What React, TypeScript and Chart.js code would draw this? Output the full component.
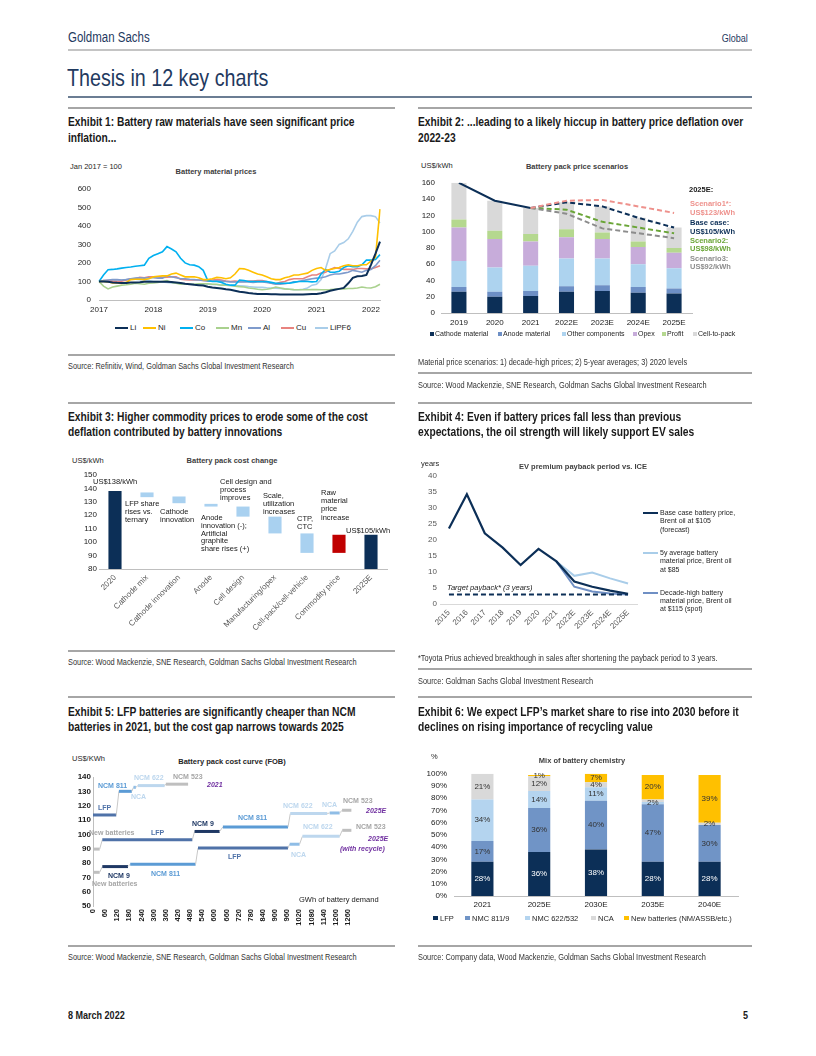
import React, { useEffect, useRef } from 'react';
import { Chart, registerables } from 'chart.js';

Chart.register(...registerables);

const ARIAL = "'Liberation Sans',Arial,Helvetica,sans-serif";
const NK = 0.82; // horizontal condensing used for the narrow page typeface
Chart.defaults.font.family = ARIAL;
Chart.defaults.font.size = 7.5;
Chart.defaults.color = '#1a1a1a';

// ---------------- Exhibit 1: battery material prices (Jan 2017 = 100), monthly ----------------
const c1Months = Array.from({ length: 63 }, (_, i) => `${2017 + Math.floor(i / 12)}-${String((i % 12) + 1).padStart(2, '0')}`);
const c1Names = ['Li', 'Ni', 'Co', 'Mn', 'Al', 'Cu', 'LiPF6'];
const c1Li = [100, 100, 98, 95, 93, 92, 92, 95, 95, 96, 98, 98, 98, 98, 98, 98, 97, 95, 92, 88, 85, 82, 80, 78, 72, 68, 65, 62, 58, 55, 50, 45, 42, 38, 35, 33, 32, 32, 31, 31, 30, 30, 30, 30, 30, 30, 31, 32, 33, 36, 42, 50, 55, 60, 65, 90, 120, 128, 130, 135, 190, 250, 315];
const c1Ni = [100, 100, 98, 92, 92, 90, 95, 110, 112, 112, 110, 115, 125, 128, 130, 130, 140, 145, 135, 125, 125, 125, 120, 110, 110, 115, 122, 120, 115, 120, 140, 170, 168, 160, 150, 140, 135, 125, 115, 110, 110, 120, 125, 135, 135, 140, 145, 160, 170, 175, 160, 165, 170, 175, 185, 190, 185, 185, 190, 190, 210, 230, 490];
const c1Co = [100, 135, 163, 165, 168, 172, 175, 178, 182, 185, 188, 225, 240, 250, 260, 288, 275, 260, 225, 200, 190, 188, 180, 160, 105, 100, 100, 95, 85, 80, 80, 108, 105, 100, 100, 100, 100, 100, 95, 90, 90, 90, 90, 95, 100, 100, 100, 98, 100, 140, 165, 150, 150, 155, 175, 185, 180, 180, 190, 215, 215, 218, 245];
const c1Mn = [100, 75, 60, 70, 75, 80, 82, 85, 90, 88, 85, 90, 92, 95, 100, 105, 95, 90, 85, 88, 85, 85, 88, 88, 88, 85, 85, 80, 80, 78, 75, 72, 70, 65, 62, 58, 55, 58, 62, 70, 65, 60, 58, 56, 55, 55, 55, 56, 56, 55, 55, 56, 58, 60, 60, 62, 62, 65, 70, 66, 65, 72, 85];
const c1Al = [100, 105, 108, 110, 110, 108, 110, 115, 118, 120, 118, 120, 120, 118, 118, 130, 125, 120, 115, 115, 112, 110, 108, 105, 102, 102, 103, 102, 100, 98, 97, 98, 98, 97, 95, 97, 98, 95, 90, 85, 85, 88, 92, 98, 100, 105, 110, 115, 118, 120, 125, 135, 140, 140, 145, 150, 160, 155, 150, 160, 165, 185, 215];
const c1Cu = [100, 105, 105, 102, 100, 102, 108, 115, 115, 122, 120, 125, 125, 125, 122, 123, 125, 125, 112, 110, 108, 108, 108, 105, 105, 108, 110, 108, 102, 100, 102, 100, 100, 102, 102, 105, 105, 100, 90, 88, 95, 100, 110, 115, 115, 115, 125, 135, 135, 145, 150, 165, 175, 170, 165, 165, 165, 170, 170, 168, 168, 175, 185];
const c1LiPF6 = [100, 100, 100, 102, 105, 108, 110, 112, 112, 110, 108, 105, 100, 100, 98, 95, 92, 90, 90, 88, 87, 85, 85, 85, 85, 84, 82, 80, 80, 78, 77, 76, 75, 72, 70, 68, 68, 66, 65, 64, 62, 60, 58, 55, 55, 58, 65, 80, 85, 110, 170, 250, 265, 300, 310, 330, 370, 420, 450, 455, 455, 450, 415];
const c1Colors = ['#0c2f57', '#ffc000', '#00b0f0', '#a9d18e', '#7f9bcc', '#e8837f', '#a9cde9'];

// ---------------- Exhibit 2: battery pack price scenarios ----------------
const c2Years = ['2019', '2020', '2021', '2022E', '2023E', '2024E', '2025E'];
const c2Names = ['Cathode material', 'Anode material', 'Other components', 'Opex', 'Profit', 'Cell-to-pack'];
const c2Cathode = [26, 20, 21, 26, 27, 25, 24];
const c2Anode = [6, 6, 6, 7, 7, 7, 6];
const c2Other = [32, 30, 31, 34, 33, 28, 25];
const c2Opex = [41, 35, 30, 26, 24, 21, 19];
const c2Profit = [10, 10, 9, 10, 8, 7, 6];
const c2CellToPack = [45, 37, 32, 33, 32, 29, 25];
const c2BaseActual = [160, 138, 129, null, null, null, null];
const c2BaseForecast = [null, null, 129, 136, 131, 117, 105];
const c2Scenario1 = [null, null, 129, 138, 139, 131, 123];
const c2Scenario2 = [null, null, 129, 127, 112, 105, 98];
const c2Scenario3 = [null, null, 129, 122, 104, 98, 92];
const c2Colors = ['#0c2f57', '#6d8fc5', '#add3ef', '#c7acda', '#b5d88f', '#d9d9d9'];

// ---------------- Exhibit 3: battery pack cost change (waterfall) ----------------
const c3Steps = ['2020', 'Cathode mix', 'Cathode innovation', 'Anode', 'Cell design', 'Manufacturing/opex', 'Cell-pack/cell-vehicle', 'Commodity price', '2025E'];
const c3From = [80, 133.5, 129, 126.5, 119, 106.5, 92, 92, 80];
const c3To = [138, 137, 134, 128.5, 126.5, 119, 106.5, 105.5, 105.5];
const c3Colors = ['#0c2f57', '#a9d1f0', '#a9d1f0', '#a9d1f0', '#a9d1f0', '#a9d1f0', '#a9d1f0', '#c00000', '#0c2f57'];

// ---------------- Exhibit 4: EV premium payback period vs ICE ----------------
const c4Years = ['2015', '2016', '2017', '2018', '2019', '2020', '2021', '2022E', '2023E', '2024E', '2025E'];
const c4Base = [23.6, 34.3, 22.1, 17.6, 12.2, 17.2, 13.3, 7.0, 5.4, 4.2, 3.2];
const c4FiveYear = [null, null, null, null, null, null, 13.3, 8.8, 9.8, 8.0, 6.4];
const c4DecadeHigh = [null, null, null, null, null, null, 13.3, 5.4, 3.9, 3.3, 3.0];
const c4Target = [3, 3, 3, 3, 3, 3, 3, 3, 3, 3, 3];

// ---------------- Exhibit 5: battery pack cost curve (FOB) ----------------
const c5Ticks = [0, 60, 120, 180, 240, 300, 360, 420, 480, 540, 600, 660, 720, 780, 840, 900, 960, 1020, 1080, 1140, 1200, 1260];
const c5Chem2021 = ['LFP', 'NCM 811', 'NCA', 'NCM 622', 'NCM 523'];
const c5From2021 = [0, 128, 200, 222, 360];
const c5To2021 = [115, 192, 212, 354, 470];
const c5Cost2021 = [113.5, 130, 132.8, 134, 135];
const c5Chem2025 = ['New batteries', 'LFP', 'NCM 9', 'NCM 811', 'NCM 622', 'NCA', 'NCM 523'];
const c5From2025 = [5, 46, 502, 642, 975, 1170, 1231];
const c5To2025 = [33, 491, 626, 964, 1158, 1219, 1277];
const c5Cost2025 = [89.7, 96.2, 102, 105.2, 114.5, 114.9, 116.8];
const c5ChemRec = ['New batteries', 'NCM 9', 'NCM 811', 'LFP', 'NCA', 'NCM 622', 'NCM 523'];
const c5FromRec = [5, 46, 184, 519, 972, 1035, 1232];
const c5ToRec = [33, 173, 507, 964, 1021, 1219, 1277];
const c5CostRec = [73.5, 77.5, 79.2, 90.4, 93.1, 98.6, 102.8];
const c5ChemColors: Record<string, string> = { LFP: '#4f72a8', 'NCM 811': '#5b9bd5', NCA: '#8fbde6', 'NCM 622': '#bdd7ee', 'NCM 523': '#bfbfbf', 'NCM 9': '#1f3864', 'New batteries': '#bfbfbf' };

// ---------------- Exhibit 6: mix of battery chemistry ----------------
const c6Years = ['2021', '2025E', '2030E', '2035E', '2040E'];
const c6Names = ['LFP', 'NMC 811/9', 'NMC 622/532', 'NCA', 'New batteries (NM/ASSB/etc.)'];
const c6LFP = [28, 36, 38, 28, 28];
const c6NMC811 = [17, 36, 40, 47, 30];
const c6NMC622 = [34, 14, 11, 2, 0];
const c6NCA = [21, 12, 4, 2, 2];
const c6New = [0, 1, 7, 20, 39];
const c6HiddenLabels = [[3, 3]];
const c6Colors = ['#0c2f57', '#7094c6', '#b4d4ef', '#d9d9d9', '#ffc000'];

const NOGRID = { display: false, drawTicks: false };

function common(pad: any) {
  return {
    animation: false,
    responsive: false,
    maintainAspectRatio: false,
    events: [],
    layout: { padding: pad },
    plugins: { legend: { display: false }, tooltip: { enabled: false }, title: { display: false } },
  };
}

function makeC1() {
  const series = [c1Li, c1Ni, c1Co, c1Mn, c1Al, c1Cu, c1LiPF6];
  return {
    type: 'line',
    data: {
      labels: c1Months,
      datasets: series.map((d, k) => ({ label: c1Names[k], data: d, borderColor: c1Colors[k], borderWidth: k === 0 ? 2 : 1.6, pointRadius: 0, tension: 0 })),
    },
    options: {
      ...common({ top: 8, right: 10, left: 0, bottom: 0 }),
      scales: {
        x: {
          grid: NOGRID,
          border: { display: true, color: '#bfbfbf' },
          ticks: { autoSkip: false, maxRotation: 0, minRotation: 0, padding: 5, color: '#262626', font: { size: 8 }, callback: (_v: any, i: number) => (c1Months[i].endsWith('-01') ? c1Months[i].slice(0, 4) : '') },
          afterFit: (s: any) => { s.height = 16; },
        },
        y: {
          min: 0, max: 600,
          grid: NOGRID,
          border: { display: false },
          ticks: { stepSize: 100, padding: 8, color: '#262626', font: { size: 8 } },
          afterFit: (s: any) => { s.width = 39; },
        },
      },
    },
  };
}

function makeC2() {
  const comps = [c2Cathode, c2Anode, c2Other, c2Opex, c2Profit, c2CellToPack];
  const bars = comps.map((d, k) => ({ type: 'bar', label: c2Names[k], data: d, backgroundColor: c2Colors[k], stack: 'pack', order: 2, barPercentage: 0.42, categoryPercentage: 1 }));
  const line = (label: string, data: any[], color: string, dash: number[], st: string) => ({ type: 'line', label, data, borderColor: color, borderWidth: 2, borderDash: dash, pointRadius: 0, stack: st, order: 0, spanGaps: false, tension: 0 });
  return {
    type: 'bar',
    data: {
      labels: c2Years,
      datasets: [
        line('Scenario1', c2Scenario1, '#ee918c', [5, 3], 's1'),
        line('Scenario3', c2Scenario3, '#8c8c8c', [5, 3], 's3'),
        line('Scenario2', c2Scenario2, '#6aa537', [5, 3], 's2'),
        line('Base forecast', c2BaseForecast, '#0c2f57', [5, 3], 'b2'),
        line('Base', c2BaseActual, '#0c2f57', [], 'b1'),
        ...bars,
      ],
    },
    options: {
      ...common({ top: 8, right: 3, left: 0, bottom: 0 }),
      scales: {
        x: { stacked: true, grid: NOGRID, border: { display: true, color: '#bfbfbf' }, ticks: { padding: 5, color: '#1a1a1a', font: { size: 8 } }, afterFit: (s: any) => { s.height = 19; } },
        y: { stacked: true, min: 0, max: 160, grid: NOGRID, border: { display: false }, ticks: { stepSize: 20, padding: 6, autoSkip: false, color: '#1a1a1a', font: { size: 8 } }, afterFit: (s: any) => { s.width = 26; } },
      },
    },
  };
}

function makeC3() {
  return {
    type: 'bar',
    data: {
      labels: c3Steps,
      datasets: [{ data: c3From.map((f, i) => [f, c3To[i]]), backgroundColor: c3Colors, barPercentage: 0.41, categoryPercentage: 1 }],
    },
    options: {
      ...common({ top: 8, right: 5, left: 0, bottom: 0 }),
      scales: {
        x: { grid: NOGRID, border: { display: true, color: '#bfbfbf' }, ticks: { autoSkip: false, minRotation: 45, maxRotation: 45, padding: 4, color: '#595959', font: { size: 8 } }, afterFit: (s: any) => { s.height = 73; } },
        y: { min: 80, max: 150, grid: NOGRID, border: { display: false }, ticks: { stepSize: 10, padding: 2, autoSkip: false, color: '#1a1a1a', font: { size: 8 } }, afterFit: (s: any) => { s.width = 37; } },
      },
    },
  };
}

function makeC4() {
  const ln = (data: any[], color: string, w: number, dash: number[]) => ({ data, borderColor: color, borderWidth: w, borderDash: dash, pointRadius: 0, tension: 0, spanGaps: false });
  return {
    type: 'line',
    data: {
      labels: c4Years,
      datasets: [
        ln(c4Target, '#0c2f57', 2, [5, 3]),
        ln(c4Base, '#0c2f57', 2.2, []),
        ln(c4DecadeHigh, '#6f8fc4', 2, []),
        ln(c4FiveYear, '#a9cde9', 2, []),
      ],
    },
    options: {
      ...common({ top: 9, right: 3, left: 0, bottom: 0 }),
      scales: {
        x: { offset: true, grid: NOGRID, border: { display: true, color: '#d9d9d9' }, ticks: { autoSkip: false, minRotation: 45, maxRotation: 45, padding: 4, color: '#595959', font: { size: 8 } }, afterFit: (s: any) => { s.height = 38; } },
        y: { min: 0, max: 40, grid: NOGRID, border: { display: false }, ticks: { stepSize: 5, padding: 3, autoSkip: false, color: '#595959', font: { size: 8 } }, afterFit: (s: any) => { s.width = 25; } },
      },
    },
  };
}

function stepPoints(from: number[], to: number[], cost: number[]) {
  const pts: any[] = [];
  from.forEach((f, i) => { pts.push({ x: f, y: cost[i] }, { x: to[i], y: cost[i] }); });
  return pts;
}

function makeC5() {
  const curve = (chem: string[], from: number[], to: number[], cost: number[]) => ({
    data: stepPoints(from, to, cost),
    borderColor: '#bfbfbf',
    borderWidth: 1,
    borderCapStyle: 'butt',
    pointRadius: 0,
    tension: 0,
    segment: {
      borderColor: (ctx: any) => (ctx.p0DataIndex % 2 === 0 ? c5ChemColors[chem[ctx.p0DataIndex / 2]] : '#c8c8c8'),
      borderWidth: (ctx: any) => (ctx.p0DataIndex % 2 === 0 ? 3 : 1),
    },
  });
  return {
    type: 'line',
    data: {
      datasets: [
        curve(c5Chem2021, c5From2021, c5To2021, c5Cost2021),
        curve(c5Chem2025, c5From2025, c5To2025, c5Cost2025),
        curve(c5ChemRec, c5FromRec, c5ToRec, c5CostRec),
      ],
    },
    options: {
      ...common({ top: 9, right: 8, left: 0, bottom: 0 }),
      scales: {
        x: {
          type: 'linear', min: 0, max: 1290,
          grid: NOGRID, border: { display: false },
          ticks: { autoSkip: false, minRotation: 90, maxRotation: 90, padding: 3, color: '#1a1a1a', font: { size: 7.5, weight: 'bold' }, callback: (v: any) => String(v) },
          afterBuildTicks: (s: any) => { s.ticks = c5Ticks.map((v) => ({ value: v })); },
          afterFit: (s: any) => { s.height = 32; },
        },
        y: { min: 50, max: 140, grid: NOGRID, border: { display: true, color: '#bfbfbf' }, ticks: { stepSize: 10, padding: 2, autoSkip: false, color: '#1a1a1a', font: { size: 8, weight: 'bold' } }, afterFit: (s: any) => { s.width = 31; } },
      },
    },
  };
}

const c6LabelPlugin = {
  id: 'c6Labels',
  afterDatasetsDraw(chart: any) {
    const { ctx } = chart;
    ctx.save();
    ctx.font = `8px ${ARIAL}`;
    ctx.textAlign = 'center';
    ctx.textBaseline = 'middle';
    chart.data.datasets.forEach((ds: any, di: number) => {
      const meta = chart.getDatasetMeta(di);
      meta.data.forEach((el: any, i: number) => {
        const v = ds.data[i];
        if (!v) return;
        if (c6HiddenLabels.some(([d, k]) => d === di && k === i)) return;
        const p = el.getProps(['x', 'y', 'base'], true);
        ctx.fillStyle = di === 0 ? '#ffffff' : '#333333';
        ctx.fillText(`${v}%`, p.x, (p.y + p.base) / 2);
      });
    });
    ctx.restore();
  },
};

function makeC6() {
  const comps = [c6LFP, c6NMC811, c6NMC622, c6NCA, c6New];
  return {
    type: 'bar',
    data: {
      labels: c6Years,
      datasets: comps.map((d, k) => ({ label: c6Names[k], data: d, backgroundColor: c6Colors[k], barPercentage: 0.39, categoryPercentage: 1 })),
    },
    plugins: [c6LabelPlugin],
    options: {
      ...common({ top: 9, right: 2, left: 0, bottom: 0 }),
      scales: {
        x: { stacked: true, grid: NOGRID, border: { display: true, color: '#bfbfbf' }, ticks: { padding: 4, color: '#1a1a1a', font: { size: 8 } }, afterFit: (s: any) => { s.height = 14; } },
        y: { stacked: true, min: 0, max: 100, grid: NOGRID, border: { display: false }, ticks: { stepSize: 10, padding: 7, autoSkip: false, color: '#1a1a1a', font: { size: 8 }, callback: (v: any) => `${v}%` }, afterFit: (s: any) => { s.width = 39; } },
      },
    },
  };
}

function ChartBox({ x, y, w, h, make }: any) {
  const ref = useRef<HTMLCanvasElement>(null);
  useEffect(() => {
    const chart = new Chart(ref.current as HTMLCanvasElement, make());
    return () => chart.destroy();
  }, []);
  return <canvas ref={ref} width={w} height={h} style={{ position: 'absolute', left: x, top: y, width: w, height: h }} />;
}

function T({ x, y, s = 7.5, c = '#1a1a1a', b = false, it = false, k = 1, a = 'left', lh, children }: any) {
  const L = lh ?? Math.round(s * 1.2);
  const st: any = { position: 'absolute', top: y - L / 2, fontSize: s, lineHeight: `${L}px`, color: c, fontWeight: b ? 'bold' : 'normal', fontStyle: it ? 'italic' : 'normal', fontFamily: ARIAL, whiteSpace: 'pre', margin: 0 };
  if (a === 'left') { st.left = x; if (k !== 1) { st.transform = `scaleX(${k})`; st.transformOrigin = 'left center'; } }
  else if (a === 'right') { st.right = 816 - x; if (k !== 1) { st.transform = `scaleX(${k})`; st.transformOrigin = 'right center'; } }
  else { st.left = x; st.transform = `translateX(-50%) scaleX(${k})`; st.transformOrigin = 'left center'; }
  return <div style={st}>{children}</div>;
}

function HL({ x1, x2, y, w = 2, c = '#a6a6a6' }: any) {
  return <div style={{ position: 'absolute', left: x1, top: y - w / 2, width: x2 - x1, height: w, background: c }} />;
}

function Sq({ x, y, c, s = 5 }: any) {
  return <div style={{ position: 'absolute', left: x, top: y - s / 2, width: s, height: s, background: c }} />;
}

const TITLE = { s: 12.5, b: true, k: NK, c: '#1a1a1a' };
const SRC = { s: 9, k: NK, c: '#333333' };
const PURPLE = '#7030a0';

export default function App() {
  const c1LegendX = [115, 143, 180, 216, 248, 281, 315];
  const c2LegendX = [430, 498, 562, 633, 662, 693];
  const c6LegendX = [433, 465, 525, 591, 624];
  return (
    <div style={{ position: 'absolute', left: 0, top: 0, width: 816, height: 1056, background: '#ffffff', overflow: 'hidden' }}>
      {/* header */}
      <T x={68} y={37} s={14} k={NK} c="#1f3a5f">Goldman Sachs</T>
      <T x={748} y={38} s={11} k={NK} c="#1f3a5f" a="right">Global</T>
      <HL x1={68} x2={752} y={50} w={2} c="#c4c4c4" />
      <T x={67} y={77} s={24} k={NK} c="#1f3a5f">Thesis in 12 key charts</T>
      <HL x1={68} x2={752} y={97} w={2} c="#6b7d93" />

      {/* exhibit header lines */}
      <HL x1={68} x2={395} y={108} />
      <HL x1={418} x2={752} y={108} />
      <HL x1={68} x2={395} y={403} />
      <HL x1={418} x2={752} y={403} />
      <HL x1={68} x2={395} y={697} />
      <HL x1={418} x2={752} y={697} />

      {/* Exhibit 1 */}
      <T x={68} y={122} {...TITLE}>Exhibit 1: Battery raw materials have seen significant price</T>
      <T x={68} y={138} {...TITLE}>inflation...</T>
      <T x={70} y={166} s={7.5} c="#262626">Jan 2017 = 100</T>
      <T x={216} y={171} s={7.5} b c="#404040" a="center">Battery material prices</T>
      <ChartBox x={60} y={176} w={330} h={140} make={makeC1} />
      {c1Names.map((n, k) => (
        <React.Fragment key={n}>
          <div style={{ position: 'absolute', left: c1LegendX[k], top: 327.3, width: 13, height: 2, background: c1Colors[k] }} />
          <T x={c1LegendX[k] + 15} y={328.3} s={8} c="#262626">{n}</T>
        </React.Fragment>
      ))}
      <HL x1={68} x2={395} y={355} w={1.5} />
      <T x={68} y={366} {...SRC}>Source: Refinitiv, Wind, Goldman Sachs Global Investment Research</T>

      {/* Exhibit 2 */}
      <T x={418} y={122} {...TITLE}>Exhibit 2: ...leading to a likely hiccup in battery price deflation over</T>
      <T x={418} y={138} {...TITLE}>2022-23</T>
      <T x={421} y={165} s={7.5} c="#262626">US$/kWh</T>
      <T x={577} y={166} s={7.5} b c="#404040" a="center">Battery pack price scenarios</T>
      <ChartBox x={415} y={172} w={280} h={160} make={makeC2} />
      <T x={689} y={189} s={7.5} b c="#1a1a1a">2025E:</T>
      <T x={690} y={203} s={7.5} b c="#ee918c" lh={9}>{'Scenario1*:\nUS$123/kWh'}</T>
      <T x={690} y={222} s={7.5} b c="#0c2f57" lh={9}>{'Base case:\nUS$105/kWh'}</T>
      <T x={690} y={241} s={7.5} b c="#6aa537" lh={8.5}>{'Scenario2:\nUS$98/kWh'}</T>
      <T x={690} y={259} s={7.5} b c="#8c8c8c" lh={8.5}>{'Scenario3:\nUS$92/kWh'}</T>
      {c2Names.map((n, k) => (
        <React.Fragment key={n}>
          <Sq x={c2LegendX[k]} y={334} c={c2Colors[k]} s={4} />
          <T x={c2LegendX[k] + 5} y={334} s={7} c="#262626">{n}</T>
        </React.Fragment>
      ))}
      <T x={418} y={362} {...SRC}>Material price scenarios: 1) decade-high prices; 2) 5-year averages; 3) 2020 levels</T>
      <HL x1={418} x2={752} y={373} w={1.5} />
      <T x={418} y={385} {...SRC}>Source: Wood Mackenzie, SNE Research, Goldman Sachs Global Investment Research</T>

      {/* Exhibit 3 */}
      <T x={68} y={417} {...TITLE}>Exhibit 3: Higher commodity prices to erode some of the cost</T>
      <T x={68} y={432} {...TITLE}>deflation contributed by battery innovations</T>
      <T x={72} y={460} s={7.5} c="#262626">US$/kWh</T>
      <T x={232} y={460} s={7.5} b c="#404040" a="center">Battery pack cost change</T>
      <ChartBox x={62} y={467} w={330} h={175} make={makeC3} />
      <T x={93} y={481} s={7.5}>US$138/kWh</T>
      <T x={125} y={504} s={7.5} lh={8}>{'LFP share\nrises vs.\nternary'}</T>
      <T x={160} y={512} s={7.5} lh={8}>{'Cathode\ninnovation'}</T>
      <T x={201} y={518} s={7.5} lh={7.8}>{'Anode\ninnovation (-);\nArtificial\ngraphite\nshare rises (+)'}</T>
      <T x={220} y={482} s={7.5} lh={7.8}>{'Cell design and\nprocess\nimproves'}</T>
      <T x={263} y={496} s={7.5} lh={8}>{'Scale,\nutilization\nincreases'}</T>
      <T x={297} y={519} s={7.5} lh={8.3}>{'CTP,\nCTC'}</T>
      <T x={321} y={493} s={7.5} lh={8.2}>{'Raw\nmaterial\nprice\nincrease'}</T>
      <T x={346} y={530} s={7.5}>US$105/kWh</T>
      <HL x1={68} x2={395} y={651} w={1.5} />
      <T x={68} y={662} {...SRC}>Source: Wood Mackenzie, SNE Research, Goldman Sachs Global Investment Research</T>

      {/* Exhibit 4 */}
      <T x={418} y={417} {...TITLE}>Exhibit 4: Even if battery prices fall less than previous</T>
      <T x={418} y={432} {...TITLE}>expectations, the oil strength will likely support EV sales</T>
      <T x={421} y={463} s={7.5} c="#262626">years</T>
      <T x={583} y={466} s={7.5} b c="#404040" a="center">EV premium payback period vs. ICE</T>
      <ChartBox x={415} y={467} w={225} h={175} make={makeC4} />
      <T x={447} y={587} s={7.5} it>Target payback* (3 years)</T>
      <div style={{ position: 'absolute', left: 643, top: 512.3, width: 15, height: 2, background: '#0c2f57' }} />
      <T x={660} y={513.3} s={7} lh={8.3} c="#262626">{'Base case battery price,\nBrent oil at $105\n(forecast)'}</T>
      <div style={{ position: 'absolute', left: 643, top: 552.3, width: 15, height: 2, background: '#a9cde9' }} />
      <T x={660} y={553.3} s={7} lh={8.3} c="#262626">{'5y average battery\nmaterial price, Brent oil\nat $85'}</T>
      <div style={{ position: 'absolute', left: 643, top: 591.7, width: 15, height: 2, background: '#6f8fc4' }} />
      <T x={660} y={592.7} s={7} lh={8.3} c="#262626">{'Decade-high battery\nmaterial price, Brent oil\nat $115 (spot)'}</T>
      <T x={418} y={658} {...SRC}>*Toyota Prius achieved breakthough in sales after shortening the payback period to 3 years.</T>
      <HL x1={418} x2={752} y={669} w={1.5} />
      <T x={418} y={681} {...SRC}>Source: Goldman Sachs Global Investment Research</T>

      {/* Exhibit 5 */}
      <T x={68} y={712} {...TITLE}>Exhibit 5: LFP batteries are significantly cheaper than NCM</T>
      <T x={68} y={727} {...TITLE}>batteries in 2021, but the cost gap narrows towards 2025</T>
      <T x={72} y={758} s={7.5} c="#262626">US$/KWh</T>
      <T x={232} y={761} s={7.5} b c="#262626" a="center">Battery pack cost curve (FOB)</T>
      <ChartBox x={62} y={768} w={300} h={170} make={makeC5} />
      <T x={98} y={786} s={7} b c={c5ChemColors['NCM 811']}>NCM 811</T>
      <T x={134} y={778} s={7} b c={c5ChemColors['NCM 622']}>NCM 622</T>
      <T x={173} y={777} s={7} b c="#a6a6a6">NCM 523</T>
      <T x={131} y={797} s={7} b c={c5ChemColors['NCM 622']}>NCA</T>
      <T x={98} y={808} s={7} b c={c5ChemColors.LFP}>LFP</T>
      <T x={207} y={785} s={7} b it c={PURPLE}>2021</T>
      <T x={283} y={806} s={7} b c={c5ChemColors['NCM 622']}>NCM 622</T>
      <T x={322} y={805} s={7} b c={c5ChemColors['NCM 622']}>NCA</T>
      <T x={343} y={801} s={7} b c="#a6a6a6">NCM 523</T>
      <T x={366} y={811} s={7} b it c={PURPLE}>2025E</T>
      <T x={192} y={824} s={7} b c={c5ChemColors['NCM 9']}>NCM 9</T>
      <T x={238} y={818} s={7} b c={c5ChemColors['NCM 811']}>NCM 811</T>
      <T x={89} y={833} s={7} b c="#a6a6a6">New batteries</T>
      <T x={151} y={833} s={7} b c={c5ChemColors.LFP}>LFP</T>
      <T x={303} y={827} s={7} b c={c5ChemColors['NCM 622']}>NCM 622</T>
      <T x={356} y={827} s={7} b c="#a6a6a6">NCM 523</T>
      <T x={368} y={839} s={7} b it c={PURPLE}>2025E</T>
      <T x={340} y={849} s={7} b it c={PURPLE}>(with recycle)</T>
      <T x={291} y={855} s={7} b c={c5ChemColors['NCM 622']}>NCA</T>
      <T x={228} y={857} s={7} b c={c5ChemColors.LFP}>LFP</T>
      <T x={108} y={876} s={7} b c={c5ChemColors['NCM 9']}>NCM 9</T>
      <T x={151} y={874} s={7} b c={c5ChemColors['NCM 811']}>NCM 811</T>
      <T x={92} y={884} s={7} b c="#a6a6a6">New batteries</T>
      <T x={299} y={899} s={7.5} c="#1a1a1a">GWh of battery demand</T>
      <HL x1={68} x2={395} y={946} w={1.5} />
      <T x={68} y={957} {...SRC}>Source: Wood Mackenzie, SNE Research, Goldman Sachs Global Investment Research</T>

      {/* Exhibit 6 */}
      <T x={418} y={712} {...TITLE}>Exhibit 6: We expect LFP’s market share to rise into 2030 before it</T>
      <T x={418} y={727} {...TITLE}>declines on rising importance of recycling value</T>
      <T x={431} y={756} s={7.5} c="#262626">%</T>
      <T x={582} y={760} s={7.5} b c="#404040" a="center">Mix of battery chemistry</T>
      <ChartBox x={415} y={762} w={325} h={148} make={makeC6} />
      {c6Names.map((n, k) => (
        <React.Fragment key={n}>
          <Sq x={c6LegendX[k]} y={918} c={c6Colors[k]} s={4.5} />
          <T x={c6LegendX[k] + 7} y={918} s={7.5} c="#262626">{n}</T>
        </React.Fragment>
      ))}
      <HL x1={418} x2={752} y={946} w={1.5} />
      <T x={418} y={957} {...SRC}>Source: Company data, Wood Mackenzie, Goldman Sachs Global Investment Research</T>

      {/* footer */}
      <T x={68} y={1015} s={11} b k={NK} c="#1a1a1a">8 March 2022</T>
      <T x={748} y={1015} s={11} b k={NK} c="#1a1a1a" a="right">5</T>
    </div>
  );
}
